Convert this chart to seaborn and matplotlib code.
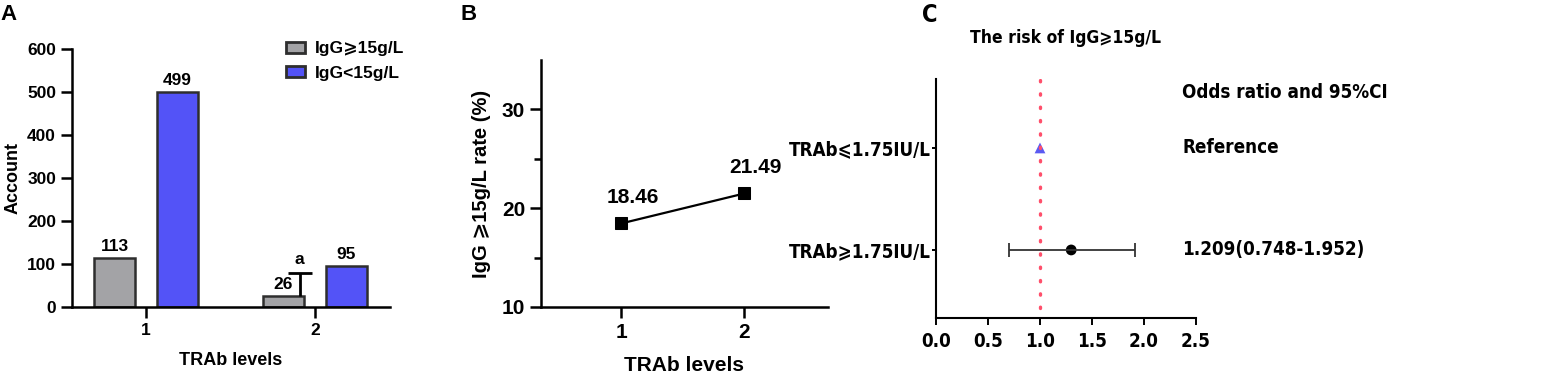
import matplotlib
matplotlib.use("Agg")
import matplotlib.pyplot as plt
import matplotlib.font_manager as fm
import seaborn as sns
import pandas as pd
import numpy as np

# panel A: counts
trab_levels = ["1", "2"]
groups = ["IgG\u2a7e15g/L", "IgG<15g/L"]
count_high = [113, 26]
count_low = [499, 95]
err_top_level2 = 79      # upper end of the whisker on the level-2 grey bar
sig_mark = "a"

# panel B: rate
rate_x = [1, 2]
rate_y = [18.46, 21.49]

# panel C: forest plot
forest_rows = ["TRAb\u2a7d1.75IU/L", "TRAb\u2a7e1.75IU/L"]
or_point = [1.0, 1.30]
ci_low = [np.nan, 0.70]
ci_high = [np.nan, 1.91]
or_text = ["Reference", "1.209(0.748-1.952)"]
or_header = "Odds ratio and 95%CI"

sns.set_theme(style="ticks")
plt.rcParams["font.family"] = ["Liberation Sans", "DejaVu Sans"]
plt.rcParams["font.weight"] = "bold"
plt.rcParams["axes.labelweight"] = "bold"
for k in ["text.color", "axes.labelcolor", "xtick.color", "ytick.color", "axes.edgecolor"]:
    plt.rcParams[k] = "black"

# a narrow bold face for panel C if one is installed
narrow_name, narrow_stretch, c_size, t_size = None, "normal", 11.5, 11
for f in fm.fontManager.ttflist:
    fn = f.fname.lower()
    if ("narrow" in fn or "condensed" in fn) and "bold" in fn and "oblique" not in fn and "italic" not in fn:
        narrow_name, narrow_stretch = f.name, f.stretch
        break
if narrow_name:
    narrow = [narrow_name, "DejaVu Sans"]
    c_size, t_size = 13.5, 12.5
else:
    narrow = ["Liberation Sans", "DejaVu Sans"]
cfont = dict(family=narrow, stretch=narrow_stretch, fontweight="bold")

W, H = 1542, 373
fig = plt.figure(figsize=(W / 100, H / 100), dpi=100)

def box(l, t, r, b):
    return [l / W, 1 - b / H, (r - l) / W, (b - t) / H]

# ---------------- A
axA = fig.add_axes(box(72, 49, 390, 307))
dfA = pd.DataFrame({
    "level": trab_levels * 2,
    "group": [groups[0]] * 2 + [groups[1]] * 2,
    "count": count_high + count_low,
})
sns.barplot(data=dfA, x="level", y="count", hue="group", order=trab_levels,
            hue_order=groups, palette=["#a3a3a6", "#5353f7"], width=0.745,
            gap=0.36, edgecolor="#2e2e2e", linewidth=1.8, saturation=1,
            errorbar=None, ax=axA)
for c in axA.containers:
    axA.bar_label(c, padding=3, fontsize=12.5, fontweight="bold")
xw = 1 - 0.09
axA.vlines(xw, count_high[1], err_top_level2, color="black", linewidth=2)
axA.hlines(err_top_level2, xw - 0.07, xw + 0.07, color="black", linewidth=2)
axA.annotate(sig_mark, (xw, err_top_level2), xytext=(0, 4), textcoords="offset points",
             ha="center", va="bottom", fontsize=12.5, fontweight="bold")
axA.set_xlim(-0.438, 1.444)
axA.set_ylim(0, 600)
axA.set_yticks(range(0, 601, 100))
axA.set_xlabel("TRAb levels", fontsize=13, labelpad=10)
axA.set_ylabel("Account", fontsize=13, labelpad=4)
axA.tick_params(labelsize=12.5, width=1.8, length=8)
for s in ["left", "bottom"]:
    axA.spines[s].set_linewidth(1.8)
sns.despine(ax=axA)
axA.legend(loc="upper left", bbox_to_anchor=(0.625, 1.09), frameon=False, fontsize=12.5,
           handlelength=1.1, handleheight=0.6, handletextpad=0.55, labelspacing=0.55)
for p in axA.get_legend().get_patches():
    p.set_linewidth(2)
fig.text(0 / W, 1 - 4 / H, "A", fontsize=16, fontweight="bold", va="top", ha="left")

# ---------------- B
axB = fig.add_axes(box(541, 60, 828, 307))
dfB = pd.DataFrame({"level": rate_x, "rate": rate_y})
sns.lineplot(data=dfB, x="level", y="rate", color="black", linewidth=1.6,
             marker="s", markersize=8, markeredgecolor="black", ax=axB)
for x, y in zip(rate_x, rate_y):
    axB.annotate(f"{y:.2f}", (x, y), xytext=(8, 12), textcoords="offset points",
                 ha="center", va="bottom", fontsize=15, fontweight="bold")
axB.set_xlim(0.347, 2.68)
axB.set_ylim(10, 35)
axB.set_xticks(rate_x)
axB.set_yticks([10, 20, 30])
axB.set_yticks([15, 25], minor=True)
axB.set_xlabel("TRAb levels", fontsize=15, labelpad=10)
axB.set_ylabel("IgG \u2a7e15g/L rate (%)", fontsize=14.5, labelpad=8)
axB.tick_params(labelsize=15, width=1.8, length=8)
axB.tick_params(which="minor", width=1.8, length=5)
for s in ["left", "bottom"]:
    axB.spines[s].set_linewidth(1.8)
sns.despine(ax=axB)
fig.text(460 / W, 1 - 4 / H, "B", fontsize=16, fontweight="bold", va="top", ha="left")

# ---------------- C
axC = fig.add_axes(box(936, 79, 1196, 318))
rows = np.arange(len(forest_rows))
axC.axvline(1.0, ymin=0.04, ymax=1, color="#ff4f6b", linestyle=(0, (0.4, 3.6)),
            linewidth=2.4, dash_capstyle="round")
axC.errorbar([or_point[1]], [rows[1]], xerr=[[or_point[1] - ci_low[1]], [ci_high[1] - or_point[1]]],
             fmt="none", ecolor="#333333", elinewidth=1.3, capsize=5, capthick=1.3)
sns.scatterplot(x=[or_point[0]], y=[rows[0]], marker="^", color="#5a5af2", s=60,
                edgecolor="none", ax=axC)
sns.scatterplot(x=[or_point[1]], y=[rows[1]], marker="o", color="black", s=60,
                edgecolor="none", ax=axC)
axC.set_xlim(0, 2.5)
axC.set_ylim(1.667, -0.676)
xt = [0, 0.5, 1.0, 1.5, 2.0, 2.5]
axC.set_xticks(xt)
axC.set_xticklabels([f"{v:.1f}" for v in xt], fontsize=c_size, **cfont)
axC.set_yticks(rows)
axC.set_yticklabels(forest_rows, fontsize=c_size, **cfont)
axC.tick_params(width=1.4, length=5, pad=5)
axC.tick_params(axis="y", length=3, pad=1)
for s in ["left", "bottom"]:
    axC.spines[s].set_linewidth(1.5)
sns.despine(ax=axC)
axC.set_xlabel("")
axC.set_ylabel("")
axC.text(2.37, -0.54, or_header, fontsize=c_size, va="center", ha="left", clip_on=False, **cfont)
for r, t in zip(rows, or_text):
    axC.text(2.37, r, t, fontsize=c_size, va="center", ha="left", clip_on=False, **cfont)
axC.text(0.5, 1 + 41 / 239, "The risk of IgG\u2a7e15g/L", transform=axC.transAxes,
         fontsize=t_size, ha="center", va="center", **cfont)
fig.text(922 / W, 1 - 3 / H, "C", fontsize=17, va="top", ha="left", **cfont)

fig.savefig("out.png", dpi=100)
